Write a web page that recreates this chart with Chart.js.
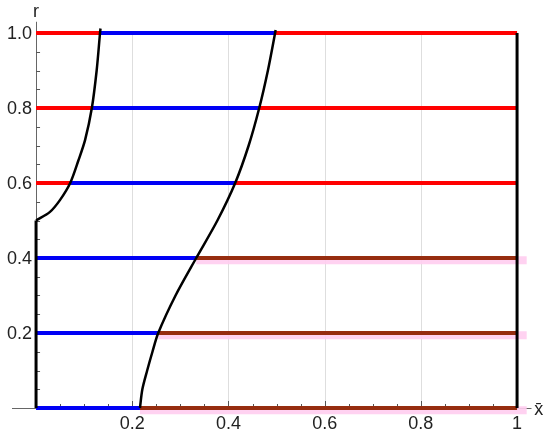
<!DOCTYPE html>
<html><head><meta charset="utf-8">
<script src="https://cdn.jsdelivr.net/npm/chart.js@4/dist/chart.umd.min.js"></script>
<style>html,body{margin:0;padding:0;background:#fff}#wrap{width:550px;height:437px}</style>
</head><body><div id="wrap"><canvas id="c"></canvas></div>
<script>
// Levels of r where horizontal segments are drawn
const rLevels = [0, 0.2, 0.4, 0.6, 0.8, 1.0];
// x of left curve crossing at each level (null = no crossing)
const leftCross = [null, null, null, 0.071, 0.116, 0.133];
// x of right curve crossing at each level
const rightCross = [0.216, 0.254, 0.333, 0.414, 0.464, 0.497];
// Left black curve
const curve1R = [0.5, 0.523, 0.555, 0.6, 0.66, 0.715, 0.8, 0.9, 1.0, 1.012];
const curve1X = [0, 0.029, 0.05, 0.071, 0.088, 0.102, 0.116, 0.126, 0.133, 0.134];
// Right black curve
const curve2R = [0, 0.05, 0.1, 0.15, 0.2, 0.3, 0.4, 0.5, 0.6, 0.7, 0.8, 0.9, 1.0, 1.008];
const curve2X = [0.216, 0.221, 0.231, 0.242, 0.254, 0.29, 0.333, 0.377, 0.414, 0.442, 0.464, 0.482, 0.497, 0.498];
// Vertical black boundaries
const leftWallR = [0, 0.5];
const rightWallR = [0, 1.0];
// Tick labels
const xTickVals = [0.2, 0.4, 0.6, 0.8, 1];
const xTickLabels = ['0.2', '0.4', '0.6', '0.8', '1'];
const yTickVals = [0.2, 0.4, 0.6, 0.8, 1.0];
const yTickLabels = ['0.2', '0.4', '0.6', '0.8', '1.0'];

const RED = 'rgb(255,0,0)', BLUE = 'rgb(0,0,245)', BROWN = 'rgb(150,45,15)', PINK = 'rgba(255,205,240,0.9)';
function seg(x0, x1, y, color, w, order) {
  return { data: [{x: x0, y: y}, {x: x1, y: y}], borderColor: color, borderWidth: w,
    showLine: true, pointRadius: 0, fill: false, clip: false, order: order };
}
const datasets = [];
rLevels.forEach((r, i) => {
  if (leftCross[i] === null) {
    datasets.push(seg(0, rightCross[i], r, BLUE, 4, 2));
    datasets.push(seg(rightCross[i], 1, r, BROWN, 4, 2));
    datasets.push(seg(rightCross[i], 1.02, r - 0.006, PINK, 8, 3));
  } else {
    datasets.push(seg(0, leftCross[i], r, RED, 4, 2));
    datasets.push(seg(leftCross[i], rightCross[i], r, BLUE, 4, 2));
    datasets.push(seg(rightCross[i], 1, r, RED, 4, 2));
  }
});
function curve(xs, rs, w) {
  return { data: xs.map((x, i) => ({x: x, y: rs[i]})), borderColor: '#000', borderWidth: w,
    showLine: true, pointRadius: 0, fill: false, clip: false, order: 0, tension: 0.3 };
}
datasets.push(curve(curve1X, curve1R, 2.5));
datasets.push(curve(curve2X, curve2R, 2.5));
datasets.push({ data: leftWallR.map(r => ({x: 0, y: r})), borderColor: '#000', borderWidth: 3, showLine: true, pointRadius: 0, clip: false, order: 0 });
datasets.push({ data: rightWallR.map(r => ({x: 1, y: r})), borderColor: '#000', borderWidth: 3, showLine: true, pointRadius: 0, clip: false, order: 0 });

const axesPlugin = {
  id: 'mmaAxes',
  beforeDatasetsDraw(chart) {
    const ctx = chart.ctx, xs = chart.scales.x, ys = chart.scales.y;
    const y0 = ys.getPixelForValue(0), x0 = xs.getPixelForValue(0);
    ctx.save();
    ctx.strokeStyle = '#dedede'; ctx.lineWidth = 1;
    xTickVals.forEach(v => {
      const px = Math.round(xs.getPixelForValue(v)) + 0.5;
      ctx.beginPath(); ctx.moveTo(px, ys.getPixelForValue(0)); ctx.lineTo(px, ys.getPixelForValue(1.0)); ctx.stroke();
    });
    ctx.strokeStyle = '#666'; ctx.lineWidth = 1;
    ctx.beginPath(); ctx.moveTo(xs.getPixelForValue(-0.05), Math.round(y0) + 0.5); ctx.lineTo(xs.getPixelForValue(1.03), Math.round(y0) + 0.5); ctx.stroke();
    ctx.beginPath(); ctx.moveTo(Math.round(x0) + 0.5, y0); ctx.lineTo(Math.round(x0) + 0.5, ys.getPixelForValue(1.03)); ctx.stroke();
    ctx.strokeStyle = '#555';
    for (let k = 1; k <= 20; k++) {
      const v = k * 0.05;
      const major = k % 4 === 0;
      const len = major ? 7 : 4;
      const px = Math.round(xs.getPixelForValue(v)) + 0.5;
      ctx.beginPath(); ctx.moveTo(px, y0); ctx.lineTo(px, y0 - len); ctx.stroke();
      const py = Math.round(ys.getPixelForValue(v)) + 0.5;
      ctx.beginPath(); ctx.moveTo(x0, py); ctx.lineTo(x0 + len, py); ctx.stroke();
    }
    ctx.restore();
  },
  afterDatasetsDraw(chart) {
    const ctx = chart.ctx, xs = chart.scales.x, ys = chart.scales.y;
    const y0 = ys.getPixelForValue(0), x0 = xs.getPixelForValue(0);
    ctx.save();
    ctx.fillStyle = '#222';
    ctx.font = '18px "Liberation Sans", Arial, sans-serif';
    ctx.textBaseline = 'middle';
    ctx.textAlign = 'right';
    yTickVals.forEach((v, i) => ctx.fillText(yTickLabels[i], x0 - 4, ys.getPixelForValue(v) + 1));
    ctx.textAlign = 'center';
    xTickVals.forEach((v, i) => ctx.fillText(xTickLabels[i], xs.getPixelForValue(v), y0 + 16));
    ctx.fillText('r', x0, 12);
    ctx.fillText('x\u0304', xs.getPixelForValue(1.045), y0 + 2);
    ctx.restore();
  }
};

new Chart(document.getElementById('c'), {
  type: 'scatter',
  data: { datasets: datasets },
  options: {
    responsive: true, maintainAspectRatio: false, animation: false,
    layout: { padding: { left: 12, right: 18.5, top: 21.75, bottom: 29 } },
    plugins: { legend: { display: false }, tooltip: { enabled: false } },
    scales: {
      x: { type: 'linear', min: -0.05, max: 1.03, display: false },
      y: { type: 'linear', min: 0, max: 1.03, display: false }
    }
  },
  plugins: [axesPlugin]
});
</script></body></html>
